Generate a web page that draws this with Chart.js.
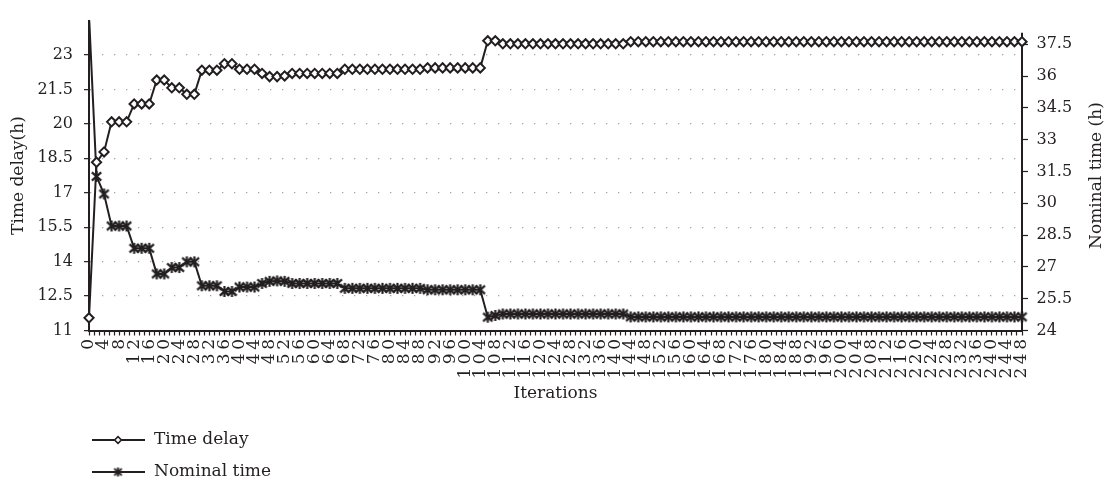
<!DOCTYPE html>
<html>
<head>
<meta charset="utf-8">
<title>Time delay and nominal time over iterations</title>
<script src="https://cdn.jsdelivr.net/npm/chart.js@4.4.1/dist/chart.umd.min.js"></script>
<style>
  html, body { margin: 0; padding: 0; background: #ffffff; }
  canvas { display: block; }
</style>
</head>
<body>
<canvas id="chart" width="1108" height="485"></canvas>
<script>
// Iteration numbers (x categories)
const iterations = [
  0, 2, 4, 6, 8, 10, 12, 14, 16, 18,
  20, 22, 24, 26, 28, 30, 32, 34, 36, 38,
  40, 42, 44, 46, 48, 50, 52, 54, 56, 58,
  60, 62, 64, 66, 68, 70, 72, 74, 76, 78,
  80, 82, 84, 86, 88, 90, 92, 94, 96, 98,
  100, 102, 104, 106, 108, 110, 112, 114, 116, 118,
  120, 122, 124, 126, 128, 130, 132, 134, 136, 138,
  140, 142, 144, 146, 148, 150, 152, 154, 156, 158,
  160, 162, 164, 166, 168, 170, 172, 174, 176, 178,
  180, 182, 184, 186, 188, 190, 192, 194, 196, 198,
  200, 202, 204, 206, 208, 210, 212, 214, 216, 218,
  220, 222, 224, 226, 228, 230, 232, 234, 236, 238,
  240, 242, 244, 246, 248
];

// Time delay (h), left axis
const timeDelay = [
  11.55, 18.33, 18.78, 20.09, 20.09, 20.09, 20.87, 20.87, 20.87, 21.91,
  21.91, 21.57, 21.57, 21.29, 21.29, 22.34, 22.34, 22.34, 22.62, 22.62,
  22.38, 22.38, 22.38, 22.20, 22.06, 22.06, 22.09, 22.20, 22.20, 22.20,
  22.20, 22.20, 22.20, 22.20, 22.38, 22.38, 22.38, 22.38, 22.38, 22.38,
  22.38, 22.38, 22.38, 22.38, 22.38, 22.44, 22.44, 22.44, 22.44, 22.44,
  22.44, 22.44, 22.44, 23.62, 23.62, 23.49, 23.49, 23.49, 23.49, 23.49,
  23.49, 23.49, 23.49, 23.49, 23.49, 23.49, 23.49, 23.49, 23.49, 23.49,
  23.49, 23.49, 23.58, 23.58, 23.58, 23.58, 23.58, 23.58, 23.58, 23.58,
  23.58, 23.58, 23.58, 23.58, 23.58, 23.58, 23.58, 23.58, 23.58, 23.58,
  23.58, 23.58, 23.58, 23.58, 23.58, 23.58, 23.58, 23.58, 23.58, 23.58,
  23.58, 23.58, 23.58, 23.58, 23.58, 23.58, 23.58, 23.58, 23.58, 23.58,
  23.58, 23.58, 23.58, 23.58, 23.58, 23.58, 23.58, 23.58, 23.58, 23.58,
  23.58, 23.58, 23.58, 23.58, 23.58
];

// Nominal time (h), right axis
const nominalTime = [
  38.90, 31.27, 30.44, 28.93, 28.93, 28.93, 27.88, 27.88, 27.88, 26.67,
  26.67, 26.97, 26.97, 27.24, 27.24, 26.11, 26.11, 26.11, 25.84, 25.84,
  26.05, 26.05, 26.05, 26.22, 26.32, 26.34, 26.32, 26.22, 26.22, 26.22,
  26.22, 26.22, 26.22, 26.22, 25.99, 25.99, 25.99, 25.99, 25.99, 25.99,
  25.99, 25.99, 25.99, 25.99, 25.99, 25.92, 25.92, 25.92, 25.92, 25.92,
  25.92, 25.92, 25.92, 24.63, 24.71, 24.78, 24.78, 24.78, 24.78, 24.78,
  24.78, 24.78, 24.78, 24.78, 24.78, 24.78, 24.78, 24.78, 24.78, 24.78,
  24.78, 24.78, 24.64, 24.64, 24.64, 24.64, 24.64, 24.64, 24.64, 24.64,
  24.64, 24.64, 24.64, 24.64, 24.64, 24.64, 24.64, 24.64, 24.64, 24.64,
  24.64, 24.64, 24.64, 24.64, 24.64, 24.64, 24.64, 24.64, 24.64, 24.64,
  24.64, 24.64, 24.64, 24.64, 24.64, 24.64, 24.64, 24.64, 24.64, 24.64,
  24.64, 24.64, 24.64, 24.64, 24.64, 24.64, 24.64, 24.64, 24.64, 24.64,
  24.64, 24.64, 24.64, 24.64, 24.64
];

// Axis tick values
const leftTicks = [11, 12.5, 14, 15.5, 17, 18.5, 20, 21.5, 23];
const rightTicks = [24, 25.5, 27, 28.5, 30, 31.5, 33, 34.5, 36, 37.5];

const INK = '#231f20';
const FAMILY = '"DejaVu Serif", "Liberation Serif", serif';
Chart.defaults.font.family = FAMILY;
Chart.defaults.color = INK;

// Asterisk marker (X with a vertical stroke)
function makeStar(size, lw) {
  const c = document.createElement('canvas');
  c.width = size; c.height = size;
  const g = c.getContext('2d');
  const m = size / 2, r = size / 2 - 1;
  g.strokeStyle = INK;
  g.lineWidth = lw;
  g.beginPath();
  g.moveTo(m - r * 0.85, m - r * 0.75); g.lineTo(m + r * 0.85, m + r * 0.75);
  g.moveTo(m + r * 0.85, m - r * 0.75); g.lineTo(m - r * 0.85, m + r * 0.75);
  g.moveTo(m, m - r); g.lineTo(m, m + r);
  g.stroke();
  return c;
}
const starMarker = makeStar(13, 2.2);
const starLegend = makeStar(11, 2);

// Right axis line, spaced x tick labels, right axis title and the legend
const decor = {
  id: 'decor',
  beforeDatasetsDraw(chart) {
    const { ctx, chartArea } = chart;
    const y1 = chart.scales.y1;
    ctx.save();
    ctx.strokeStyle = INK;
    ctx.lineWidth = 2;
    ctx.beginPath();
    ctx.moveTo(chartArea.right, y1.getPixelForValue(38.05));
    ctx.lineTo(chartArea.right, chartArea.bottom + 1);
    ctx.stroke();
    ctx.restore();
  },
  afterDatasetsDraw(chart) {
    // the x tick labels are drawn in a later layer; give their digits some room
    chart.ctx.letterSpacing = '3.5px';
  },
  afterDraw(chart) {
    const { ctx, chartArea } = chart;
    ctx.letterSpacing = '0px';
    ctx.save();
    ctx.fillStyle = INK;
    ctx.font = '17px ' + FAMILY;
    ctx.textAlign = 'center';
    ctx.textBaseline = 'middle';
    ctx.translate(1097, (chartArea.top + chartArea.bottom) / 2);
    ctx.rotate(-Math.PI / 2);
    ctx.fillText('Nominal time (h)', 0, 0);
    ctx.restore();

    chart.data.datasets.forEach((ds, i) => {
      const y = 440 + i * 32;
      ctx.save();
      ctx.strokeStyle = INK;
      ctx.lineWidth = ds.borderWidth;
      ctx.beginPath();
      ctx.moveTo(92, y);
      ctx.lineTo(145, y);
      ctx.stroke();
      ctx.fillStyle = '#ffffff';
      ctx.strokeStyle = INK;
      ctx.lineWidth = 1.6;
      Chart.helpers.drawPoint(ctx, {
        pointStyle: i === 0 ? ds.pointStyle : starLegend,
        radius: 3.4,
        borderWidth: 1.6,
        rotation: 0
      }, 118, y);
      ctx.fillStyle = INK;
      ctx.font = '17px ' + FAMILY;
      ctx.textAlign = 'left';
      ctx.textBaseline = 'middle';
      ctx.fillText(ds.label, 154, y);
      ctx.restore();
    });
  }
};

new Chart(document.getElementById('chart'), {
  type: 'line',
  data: {
    labels: iterations,
    datasets: [
      {
        label: 'Time delay',
        data: timeDelay,
        xAxisID: 'x',
        yAxisID: 'y',
        borderColor: INK,
        borderWidth: 2,
        tension: 0,
        pointStyle: 'rectRot',
        pointRadius: 4.6,
        pointBorderWidth: 2,
        pointBackgroundColor: '#ffffff',
        pointBorderColor: INK,
        clip: { left: 8, right: 8, top: 0, bottom: 8 }
      },
      {
        label: 'Nominal time',
        data: nominalTime,
        xAxisID: 'x',
        yAxisID: 'y1',
        borderColor: INK,
        borderWidth: 2,
        tension: 0,
        pointStyle: starMarker,
        pointRadius: 5,
        pointBorderWidth: 2,
        pointBackgroundColor: INK,
        pointBorderColor: INK,
        clip: { left: 8, right: 8, top: 0, bottom: 8 }
      }
    ]
  },
  options: {
    responsive: false,
    animation: false,
    devicePixelRatio: 1,
    layout: { padding: { top: 7.5, bottom: 79.5, left: 0, right: 0 } },
    plugins: { legend: { display: false }, tooltip: { enabled: false } },
    scales: {
      xt: {
        type: 'linear',
        position: 'bottom',
        weight: 0,
        min: 0,
        max: 248,
        afterFit: s => { s.height = 5; },
        ticks: { display: false, stepSize: 4 / 3, autoSkip: false },
        grid: { drawOnChartArea: false, tickLength: 5, color: INK, tickColor: INK, tickWidth: 1.2 },
        border: { display: true, color: INK, width: 2 }
      },
      x: {
        type: 'category',
        position: 'bottom',
        weight: 1,
        offset: false,
        afterFit: s => { s.height = 70; },
        grid: { display: false, drawTicks: false },
        border: { display: false },
        ticks: {
          z: 1,
          autoSkip: false,
          maxRotation: 90,
          minRotation: 90,
          padding: 0,
          font: { size: 17 },
          callback: (v, i) => (i % 2 === 0 ? String(iterations[i]) : '')
        },
        title: { display: true, text: 'Iterations', font: { size: 17 }, padding: { top: 0, bottom: 2 } }
      },
      y: {
        position: 'left',
        min: 11,
        max: 24.5,
        afterFit: s => { s.width = 89; },
        afterBuildTicks: s => { s.ticks = leftTicks.map(v => ({ value: v })); },
        ticks: { padding: 11, font: { size: 16 } },
        grid: {
          color: '#a3a3a3',
          lineWidth: 1.3,
          tickLength: 5,
          tickColor: INK,
          tickWidth: 1.2,
          tickBorderDash: []
        },
        border: { display: true, color: INK, width: 2, dash: [1.3, 10.7] },
        title: { display: true, text: 'Time delay(h)', font: { size: 17 }, padding: { top: 8, bottom: 4 } }
      },
      y1: {
        position: 'right',
        min: 24,
        max: 38.62,
        afterFit: s => { s.width = 86; },
        afterBuildTicks: s => { s.ticks = rightTicks.map(v => ({ value: v })); },
        ticks: { padding: 8.5, font: { size: 16 } },
        grid: { drawOnChartArea: false, tickLength: 6, color: INK, tickColor: INK, tickWidth: 1.2 },
        border: { display: false }
      }
    }
  },
  plugins: [decor]
});
</script>
</body>
</html>
